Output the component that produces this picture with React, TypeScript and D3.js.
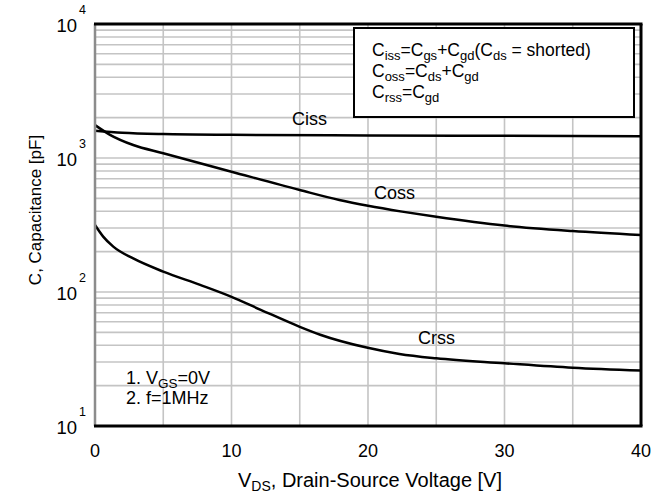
import React, { useEffect, useRef } from 'react';
import * as d3 from 'd3';

// values (pF vs V)
const vdsIss = [0, 2, 5, 10, 20, 30, 40];
const ciss = [1600, 1545, 1510, 1490, 1475, 1465, 1455];

const vdsOss = [0, 1.1, 2.8, 5, 10, 15, 17.9, 20, 22.5, 25, 30, 35, 40];
const coss = [1760, 1490, 1250, 1085, 790, 577, 486, 440, 398, 364, 313, 285, 266];

const vdsRss = [0, 0.6, 1.34, 2.8, 5, 7.7, 10, 12.1, 15, 16.5, 19.9, 22.3, 25, 30, 35, 40];
const crss = [316, 259, 218, 178, 142, 113, 92, 74, 55, 48, 38.5, 34.5, 32, 29.4, 27.2, 25.9];

const xTicks = [0, 10, 20, 30, 40];
const yTickExps = [1, 2, 3, 4];
const curveLabels = ['Ciss', 'Coss', 'Crss'];

const FONT = 'Arial, "Liberation Sans", sans-serif';

const App = () => {
  const svgRef = useRef<SVGSVGElement>(null);

  useEffect(() => {
    const svg = d3.select(svgRef.current);
    svg.selectAll('*').remove();

    const width = 663;
    const height = 500;
    const m = { left: 95, right: 22, top: 24, bottom: 74 };

    svg.attr('width', width).attr('height', height)
      .style('font-family', FONT);

    const x = d3.scaleLinear().domain([0, 40]).range([m.left, width - m.right]);
    const y = d3.scaleLog().domain([10, 10000]).range([height - m.bottom, m.top]);

    // grid
    const grid = svg.append('g').attr('stroke', '#c4c4c4').attr('stroke-width', 1.6);
    const minor: number[] = [];
    [10, 100, 1000].forEach(d => {
      for (let k = 1; k <= 9; k++) minor.push(d * k);
    });
    grid.selectAll('line.h')
      .data(minor.filter(v => v > 10))
      .join('line')
      .attr('x1', x(0)).attr('x2', x(40))
      .attr('y1', d => y(d)).attr('y2', d => y(d));
    grid.selectAll('line.v')
      .data(d3.range(5, 40, 5))
      .join('line')
      .attr('x1', d => x(d)).attr('x2', d => x(d))
      .attr('y1', y(10000)).attr('y2', y(10));

    // curves
    const line = d3.line<[number, number]>()
      .x(d => x(d[0]))
      .y(d => y(d[1]))
      .curve(d3.curveMonotoneX);
    const series = [
      vdsIss.map((v, i) => [v, ciss[i]] as [number, number]),
      vdsOss.map((v, i) => [v, coss[i]] as [number, number]),
      vdsRss.map((v, i) => [v, crss[i]] as [number, number]),
    ];
    svg.append('g').selectAll('path')
      .data(series)
      .join('path')
      .attr('d', d => line(d))
      .attr('fill', 'none')
      .attr('stroke', '#000')
      .attr('stroke-width', 2.5);

    // frame
    svg.append('line')
      .attr('x1', x(0)).attr('x2', x(0))
      .attr('y1', y(10000)).attr('y2', y(10))
      .attr('stroke', '#8c8c8c').attr('stroke-width', 2.5);
    const frame = svg.append('g').attr('stroke', '#000').attr('stroke-width', 3);
    frame.append('line').attr('x1', x(0) - 1).attr('x2', x(40) + 1.5).attr('y1', y(10000)).attr('y2', y(10000));
    frame.append('line').attr('x1', x(0) - 1).attr('x2', x(40) + 1.5).attr('y1', y(10)).attr('y2', y(10));
    frame.append('line').attr('x1', x(40)).attr('x2', x(40)).attr('y1', y(10000)).attr('y2', y(10));

    // x ticks
    svg.append('g').selectAll('text')
      .data(xTicks)
      .join('text')
      .attr('x', d => x(d))
      .attr('y', 457)
      .attr('text-anchor', 'middle')
      .attr('font-size', 18)
      .text(d => d);

    // y ticks 10^n
    const yt = svg.append('g').selectAll('g')
      .data(yTickExps)
      .join('g');
    yt.append('text')
      .attr('x', 77)
      .attr('y', d => y(Math.pow(10, d)) + 7.5)
      .attr('text-anchor', 'end')
      .attr('font-size', 18.5)
      .text('10');
    yt.append('text')
      .attr('x', 79)
      .attr('y', d => y(Math.pow(10, d)) - 10)
      .attr('font-size', 12.5)
      .text(d => d);

    // axis titles
    const xt = svg.append('text')
      .attr('x', 370)
      .attr('y', 487)
      .attr('text-anchor', 'middle')
      .attr('font-size', 20);
    xt.append('tspan').text('V');
    xt.append('tspan').attr('font-size', 14).attr('dy', 4).text('DS');
    xt.append('tspan').attr('dy', -4).text(', Drain-Source Voltage [V]');

    svg.append('text')
      .attr('transform', 'translate(41,210) rotate(-90)')
      .attr('text-anchor', 'middle')
      .attr('font-size', 17)
      .text('C, Capacitance [pF]');

    // curve labels
    const labelPos = [[14.43, 1762], [20.44, 494], [23.66, 40.9]];
    svg.append('g').selectAll('text')
      .data(curveLabels)
      .join('text')
      .attr('x', (d, i) => x(labelPos[i][0]))
      .attr('y', (d, i) => y(labelPos[i][1]))
      .attr('font-size', 18)
      .text(d => d);

    // legend box
    svg.append('rect')
      .attr('x', 354).attr('y', 28)
      .attr('width', 280).attr('height', 89)
      .attr('fill', '#fff')
      .attr('stroke', '#000').attr('stroke-width', 2);

    const sub = (el: any, parts: [string, boolean][], big: number, small: number) => {
      let down = false;
      parts.forEach(([t, s]) => {
        const dy = s && !down ? 4 : !s && down ? -4 : 0;
        el.append('tspan').attr('dy', dy).attr('font-size', s ? small : big).text(t);
        down = s;
      });
    };
    const lg = svg.append('g');
    sub(lg.append('text').attr('x', 372).attr('y', 56),
      [['C', false], ['iss', true], ['=C', false], ['gs', true], ['+C', false], ['gd', true], ['(C', false], ['ds', true], [' = shorted)', false]], 17.5, 13);
    sub(lg.append('text').attr('x', 372).attr('y', 77),
      [['C', false], ['oss', true], ['=C', false], ['ds', true], ['+C', false], ['gd', true]], 17.5, 13);
    sub(lg.append('text').attr('x', 372).attr('y', 98),
      [['C', false], ['rss', true], ['=C', false], ['gd', true]], 17.5, 13);

    // test conditions
    const nt = svg.append('g');
    sub(nt.append('text').attr('x', 126).attr('y', 384),
      [['1. V', false], ['GS', true], ['=0V', false]], 18, 13.5);
    nt.append('text').attr('x', 126).attr('y', 404).attr('font-size', 18).text('2. f=1MHz');
  }, []);

  return <svg ref={svgRef} style={{ position: 'absolute', left: 0, top: 0 }}></svg>;
};

export default App;
